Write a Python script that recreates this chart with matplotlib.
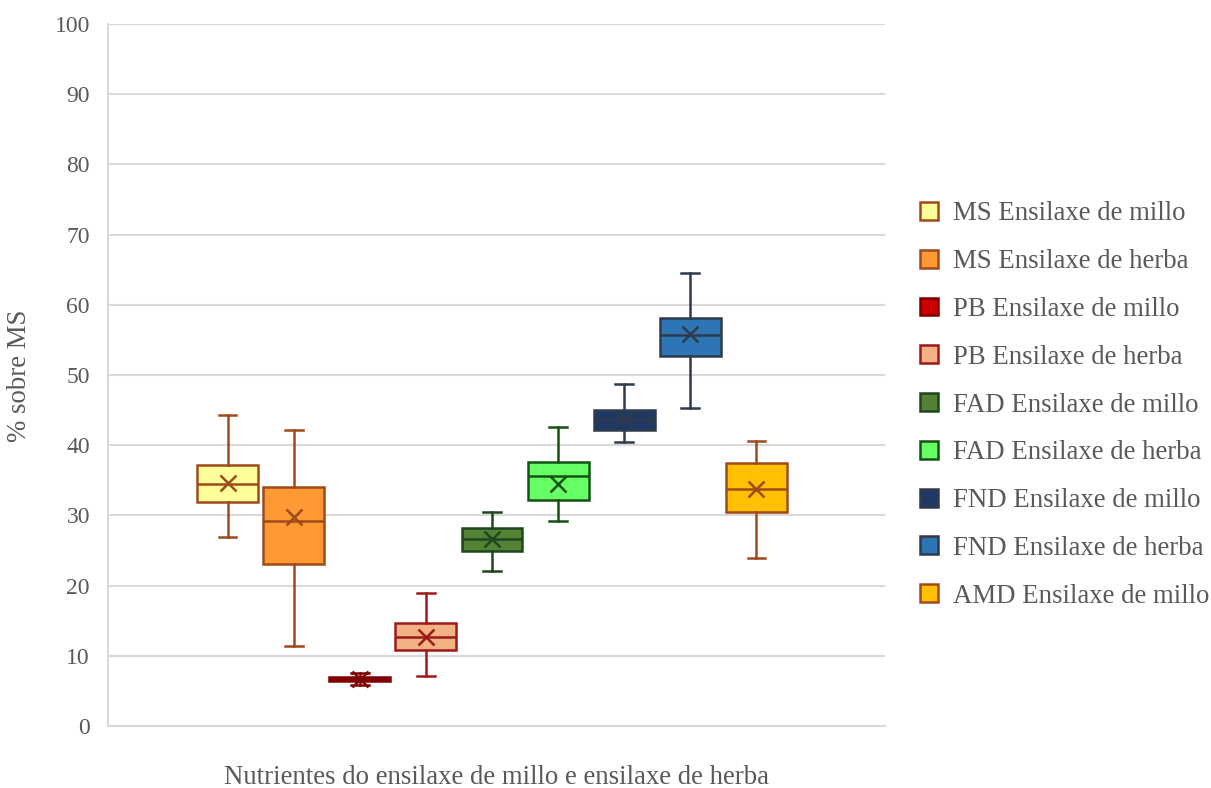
import matplotlib
matplotlib.use("Agg")
import matplotlib.pyplot as plt
from matplotlib.patches import Patch

plt.rcParams['font.family'] = ['Liberation Serif', 'DejaVu Serif']

labels = ["MS Ensilaxe de millo", "MS Ensilaxe de herba", "PB Ensilaxe de millo",
          "PB Ensilaxe de herba", "FAD Ensilaxe de millo", "FAD Ensilaxe de herba",
          "FND Ensilaxe de millo", "FND Ensilaxe de herba", "AMD Ensilaxe de millo"]
whislo = [26.9, 11.4, 5.8, 7.1, 22.1, 29.2, 40.5, 45.3, 23.9]
q1     = [31.9, 23.1, 6.4, 10.8, 24.9, 32.2, 42.2, 52.7, 30.5]
med    = [34.5, 29.2, 6.7, 12.7, 26.6, 35.6, 43.7, 55.7, 33.8]
q3     = [37.2, 34.0, 7.0, 14.7, 28.2, 37.6, 45.0, 58.1, 37.5]
whishi = [44.3, 42.2, 7.6, 18.9, 30.5, 42.6, 48.7, 64.5, 40.6]
mean   = [34.6, 29.8, 6.7, 12.7, 26.6, 34.5, 43.7, 55.8, 33.8]

faces = ["#FFFF99", "#FF9933", "#CC0000", "#F4B183", "#548235", "#66FF66",
         "#203864", "#2E75B6", "#FFC000"]
edges = ["#9E4A1A", "#9E4A1A", "#7F0000", "#9B1B1B", "#1E4620", "#145214",
         "#2F3B4C", "#2F3B4C", "#9E4A1A"]

text_color = "#595959"
grid_color = "#D9D9D9"

fig = plt.figure(figsize=(12.11, 7.88), dpi=100)
ax = fig.add_axes([108/1211, 1-726/788, (885-108)/1211, (726-24)/788])

for i in range(len(labels)):
    st = dict(whislo=whislo[i], q1=q1[i], med=med[i], q3=q3[i], whishi=whishi[i],
              mean=mean[i], fliers=[], label=labels[i])
    ec = edges[i]
    ax.bxp([st], positions=[i + 1], widths=0.92, patch_artist=True, showmeans=True,
           boxprops=dict(facecolor=faces[i], edgecolor=ec, linewidth=1.8),
           medianprops=dict(color=ec, linewidth=1.8),
           whiskerprops=dict(color=ec, linewidth=1.8),
           capprops=dict(color=ec, linewidth=1.8),
           capwidths=0.27,
           meanprops=dict(marker='x', markeredgecolor=ec, markersize=12,
                          markeredgewidth=1.8),
           zorder=3)

ax.set_xlim(-0.808, 10.944)
ax.set_ylim(0, 100)
ax.set_yticks(range(0, 101, 10))
ax.set_xticks([])
ax.yaxis.grid(True, color=grid_color, linewidth=1.5)
ax.set_axisbelow(True)
for s in ['top', 'right']:
    ax.spines[s].set_visible(False)
for s in ['left', 'bottom']:
    ax.spines[s].set_color(grid_color)
    ax.spines[s].set_linewidth(1.5)
ax.tick_params(axis='y', length=0, labelsize=17, labelcolor=text_color, pad=13)

fig.text(20/1211, 1-376/788, "% sobre MS", rotation=90, ha='center', va='center',
         fontsize=19.3, color=text_color)
fig.text(497/1211, 1-777/788, "Nutrientes do ensilaxe de millo e ensilaxe de herba",
         ha='center', va='center', fontsize=19.3, color=text_color)

handles = [Patch(facecolor=faces[i], edgecolor=edges[i], linewidth=1.8, label=labels[i])
           for i in range(len(labels))]
leg = fig.legend(handles=handles, loc='center left',
                 bbox_to_anchor=(896/1211, 1-405/788), frameon=False,
                 fontsize=19.3, labelcolor=text_color, handlelength=0.65,
                 handleheight=0.65, handletextpad=0.58, labelspacing=0.85)

fig.savefig("out.png", dpi=100)
